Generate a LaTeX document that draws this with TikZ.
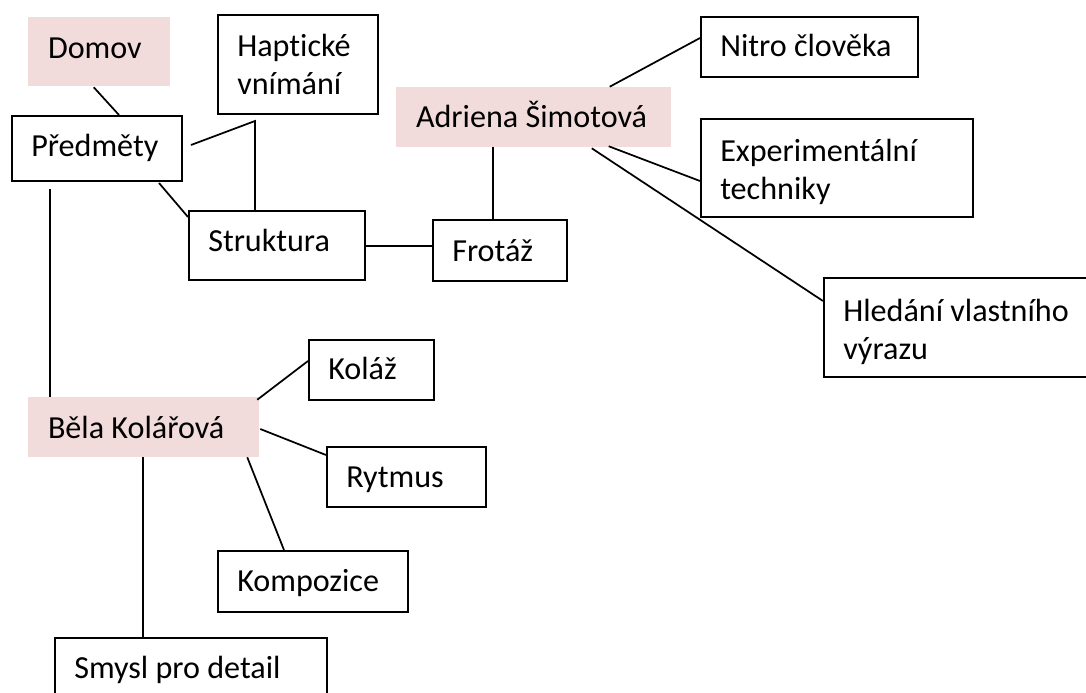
\documentclass[tikz,border=0pt]{standalone}
\usepackage{fontspec}
\setmainfont{Carlito}[Ligatures=NoCommon]
\usetikzlibrary{calc,fit}
\definecolor{rosefill}{RGB}{242,220,219}
\begin{document}
\begin{tikzpicture}[x=0.75pt,y=-0.75pt,
  frame/.style={draw=black, line width=1.5pt, fill=white, inner sep=0pt},
  tint/.style={fill=rosefill, draw=none, inner sep=0pt},
  word/.style={anchor=north west, inner sep=0pt, align=left,
    font=\fontsize{24.1pt}{28.5pt}\selectfont},
  link/.style={line width=1.3pt}]
\useasboundingbox (0,0) rectangle (1086,693);
\fill[white] (0,0) rectangle (1086,693);
\clip (0,0) rectangle (1086,693);

% shaded headings
\node (domov) [tint, fit={(28,17) (170,86)}] {};
\node (adr)   [tint, fit={(396,87) (671,147)}] {};
\node (bela)  [tint, fit={(28,397) (259,457)}] {};

% framed topics
\node (hapt)  [frame, fit={(218,15) (378,114)}] {};
\node (pred)  [frame, fit={(12,116) (182,181)}] {};
\node (strk)  [frame, fit={(189,211) (365,280)}] {};
\node (frot)  [frame, fit={(433,220) (567,281)}] {};
\node (nitro) [frame, fit={(701,17) (918,77)}] {};
\node (exper) [frame, fit={(701,119) (973,217)}] {};
\node (hled)  [frame, fit={(824,278) (1100,377)}] {};
\node (kolaz) [frame, fit={(309,340) (434,400)}] {};
\node (rytm)  [frame, fit={(327,447) (486,507)}] {};
\node (komp)  [frame, fit={(218,551) (408,612)}] {};
\node (smysl) [frame, fit={(55,638) (327,710)}] {};

% texts, first baseline about 41 px below the top edge
\node (domov-t) [word] at ($(domov.north west)+(20,14.4)$) {\strut Domov};
\node (adr-t)   [word] at ($(adr.north west)+(20,13.4)$) {\strut Adriena Šimotová};
\node (bela-t)  [word] at ($(bela.north west)+(20,14.4)$) {\strut Běla Kolářová};
\node (hapt-t)  [word] at ($(hapt.north west)+(20,15.4)$) {\strut Haptické\\vnímání};
\node (pred-t)  [word] at ($(pred.north west)+(20,14.4)$) {\strut Předměty};
\node (strk-t)  [word] at ($(strk.north west)+(20,14.4)$) {\strut Struktura};
\node (frot-t)  [word] at ($(frot.north west)+(20,15.4)$) {\strut Frotáž};
\node (nitro-t) [word] at ($(nitro.north west)+(20,13.4)$) {\strut Nitro člověka};
\node (exper-t) [word] at ($(exper.north west)+(20,16.4)$) {\strut Experimentální\\techniky};
\node (hled-t)  [word] at ($(hled.north west)+(20,17.4)$) {\strut Hledání vlastního\\výrazu};
\node (kolaz-t) [word] at ($(kolaz.north west)+(20,13.4)$) {\strut Koláž};
\node (rytm-t)  [word] at ($(rytm.north west)+(20,14.4)$) {\strut Rytmus};
\node (komp-t)  [word] at ($(komp.north west)+(20,14.4)$) {\strut Kompozice};
\node (smysl-t) [word] at ($(smysl.north west)+(20,14.4)$) {\strut Smysl pro detail};

% connectors
\draw[link] ($(domov.south west)+(66,1)$) -- ($(pred.north west)+(108,0)$);
\coordinate (hc) at ($(hapt.south west)+(38,6)$);
\draw[link] ($(pred.east)+(8,-3.5)$) -- (hc) -- (hc |- strk.north);
\draw[link] ($(pred.south west)+(148,1)$) -- ($(strk.north west)+(0,7)$);
\draw[link] ($(pred.south west)+(39,7)$) coordinate (pb) -- (pb |- bela.north);
\draw[link] ($(strk.east)+(0,0.5)$) coordinate (se) -- (se -| frot.west);
\draw[link] ($(frot.north west)+(61,0)$) coordinate (ft) -- (ft |- adr.south);
\draw[link] ($(adr.north west)+(214,0)$) -- ($(nitro.west)+(0,-9)$);
\draw[link] ($(adr.south west)+(213,-1)$) -- ($(exper.west)+(0,13)$);
\draw[link] ($(adr.south west)+(196,1)$) -- ($(hled.north west)+(0,24)$);
\draw[link] ($(bela.north east)+(-2,3)$) -- ($(kolaz.west)+(0,-9)$);
\draw[link] ($(bela.east)+(1,2)$) -- ($(rytm.north west)+(0,9)$);
\draw[link] ($(bela.south east)+(-12,0)$) -- ($(komp.north west)+(67,0)$);
\draw[link] ($(bela.south west)+(115,0)$) coordinate (bs) -- (bs |- smysl.north);
\end{tikzpicture}
\end{document}
